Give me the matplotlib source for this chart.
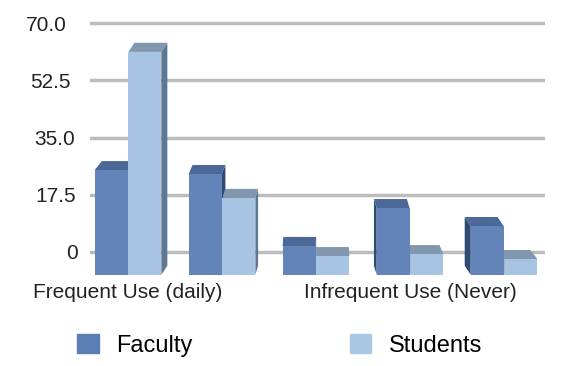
import numpy as np
import matplotlib.pyplot as plt
import matplotlib.transforms as mtransforms
from matplotlib.patches import Polygon, Patch

plt.rcParams['font.family'] = ['Liberation Sans', 'DejaVu Sans']

# data
categories = ['Frequent Use (daily)', '', '', 'Infrequent Use (Never)', '']
faculty = [27.8, 26.6, 4.6, 16.2, 10.7]
students = [64.0, 19.3, 1.5, 2.1, 0.6]
yticks = [0, 17.5, 35.0, 52.5, 70.0]
ytick_labels = ['0', '17.5', '35.0', '52.5', '70.0']

# colours: front, top, side
fac_col = ('#6384b9', '#4b6898', '#2f4a73')
stu_col = ('#a7c5e3', '#8097ad', '#5e7690')

fig = plt.figure(figsize=(5.66, 3.66), dpi=100)
ax = fig.add_axes([0.159, 0.2446, 0.804, 0.710])

base = -7.0    # front floor of the pseudo 3d bars
depth = 2.8    # vertical depth of the top face (data units)
width = 0.35
centre = 2.0   # vanishing point


def bar3d(x, v, cols, z):
    x0, x1 = x - width / 2, x + width / 2
    dx = 0.035 * (centre - x)
    ftop = v - depth
    if dx >= 0:
        side = [(x1, base), (x1, ftop), (x1 + dx, v), (x1 + dx, base + depth)]
    else:
        side = [(x0, base), (x0, ftop), (x0 + dx, v), (x0 + dx, base + depth)]
    top = [(x0, ftop), (x1, ftop), (x1 + dx, v), (x0 + dx, v)]
    ax.add_patch(Polygon(side, closed=True, fc=cols[2], ec='none', zorder=z))
    ax.add_patch(Polygon(top, closed=True, fc=cols[1], ec='none', zorder=z))
    ax.bar(x, ftop - base, width=width, bottom=base, color=cols[0],
           edgecolor='none', zorder=z + 0.5)


xs = np.arange(len(categories))
for i, x in enumerate(xs):
    # draw the bar whose side face is hidden first
    if x <= centre:
        bar3d(x - 0.18, faculty[i], fac_col, 3)
        bar3d(x + 0.18, students[i], stu_col, 4)
    else:
        bar3d(x + 0.18, students[i], stu_col, 3)
        bar3d(x - 0.18, faculty[i], fac_col, 4)

for y in yticks:
    ax.axhline(y, color='#bcbcbc', lw=2.5, zorder=1)

ax.set_xlim(-0.404, 4.436)
ax.set_ylim(-7.5, 72)
ax.set_yticks(yticks)
ax.set_yticklabels(ytick_labels)
ax.set_xticks(xs)
ax.set_xticklabels(categories)
ax.tick_params(axis='y', length=0, pad=16.5, labelsize=15, labelcolor='#222222')
ax.tick_params(axis='x', length=0, pad=5, labelsize=15, labelcolor='#222222')
for s in ax.spines.values():
    s.set_visible(False)

# perspective: lower labels sit a little further right
shifts = [11, 9, 8, 4, 0]
for lab, sh in zip(ax.get_yticklabels(), shifts):
    off = mtransforms.ScaledTranslation(sh / 100, 0, fig.dpi_scale_trans)
    lab.set_transform(lab.get_transform() + off)

handles = [Patch(color='#5b7fb5', label='Faculty'),
           Patch(color='#a9c6e2', label='Students')]
fig.legend(handles=handles, loc='center', bbox_to_anchor=(0.494, 0.057), ncol=2,
           frameon=False, fontsize=17, handlelength=0.9, handleheight=0.9,
           handletextpad=0.72, columnspacing=6.7, borderpad=0, borderaxespad=0)

fig.savefig('out.png', dpi=100)
